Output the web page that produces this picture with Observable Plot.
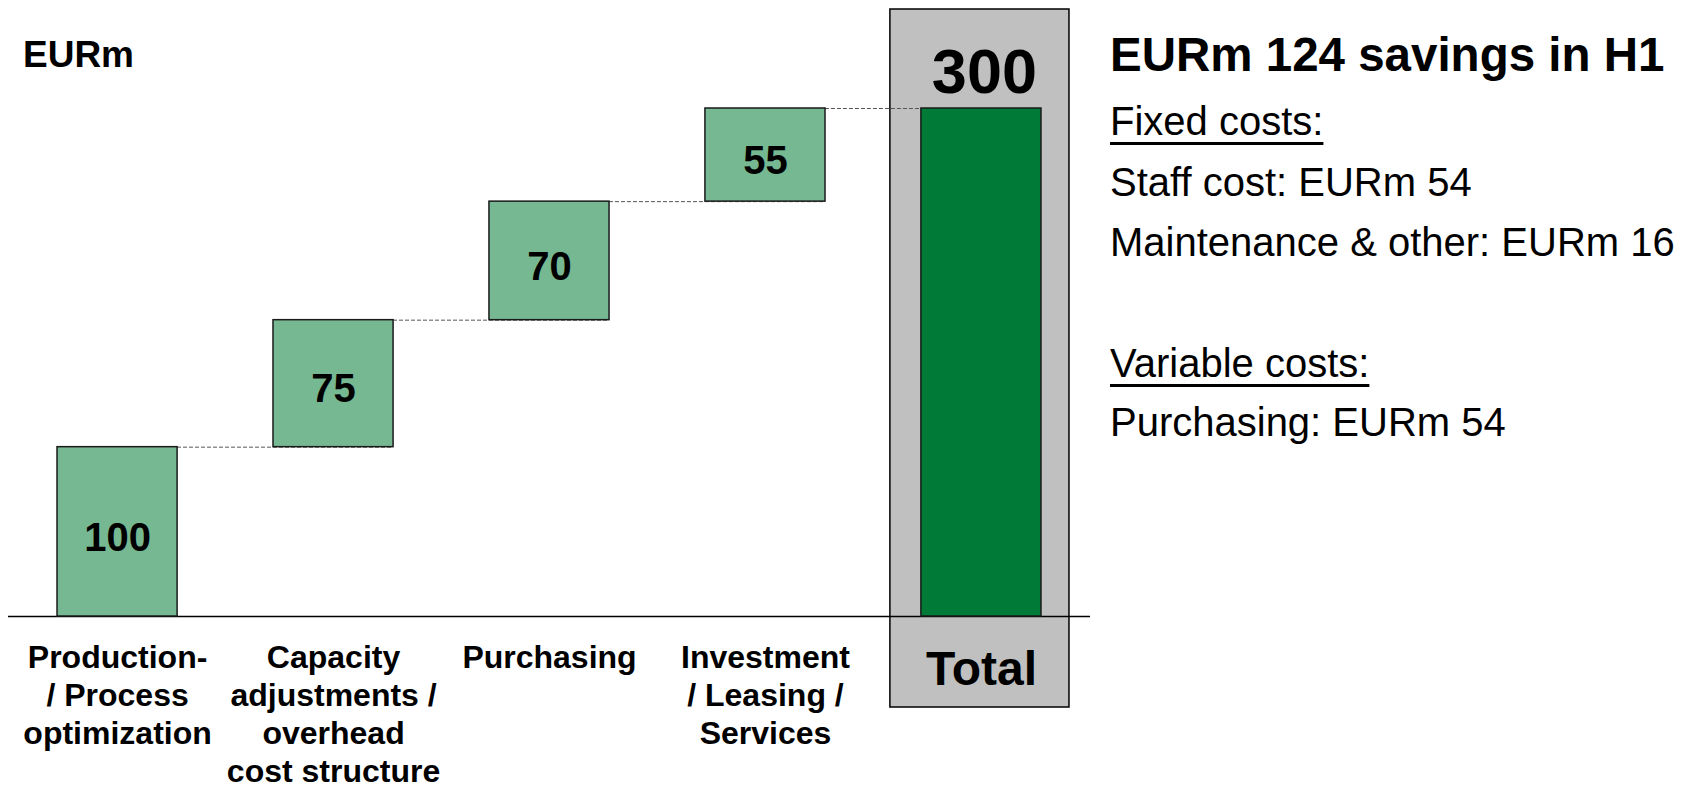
<!DOCTYPE html>
<html>
<head>
<meta charset="utf-8">
<script src="https://cdn.jsdelivr.net/npm/d3@7"></script>
<script src="https://cdn.jsdelivr.net/npm/@observablehq/plot@0.6"></script>
<style>
  html, body { margin: 0; padding: 0; background: #fff; }
  #wrap { position: relative; width: 1692px; height: 788px; font-family: "Liberation Sans", Arial, sans-serif; color: #000; }
  #chart { position: absolute; left: 0; top: 0; }
  .t { position: absolute; white-space: nowrap; line-height: 1; }
  .u { text-decoration: underline; text-decoration-thickness: 3px; text-underline-offset: 7px; }
</style>
</head>
<body>
<div id="wrap">
  <div id="chart"></div>
</div>
<script>
// ---- data ----
const categories = [
  "Production-\n/ Process\noptimization",
  "Capacity\nadjustments /\noverhead\ncost structure",
  "Purchasing",
  "Investment\n/ Leasing /\nServices"
];
const values = [100, 75, 70, 55];
const totalLabel = "Total";
const totalValue = 300;
const unitLabel = "EURm";
const panelTitle = "EURm 124 savings in H1";
const panelLines = [
  {text: "Fixed costs:", underline: true},
  {text: "Staff cost: EURm 54"},
  {text: "Maintenance & other: EURm 16"},
  {text: "Variable costs:", underline: true},
  {text: "Purchasing: EURm 54"}
];

// ---- derived waterfall table ----
let run = 0;
const steps = categories.map((c, i) => {
  const start = run;
  run += values[i];
  return {cat: c, start, end: run, value: values[i], mid: (start + run) / 2};
});
const connectors = steps.map((s, i) => ({
  from: s.cat,
  to: i < steps.length - 1 ? steps[i + 1].cat : totalLabel,
  y: s.end
}));
const totalRow = [{cat: totalLabel, start: 0, end: totalValue, value: totalValue}];
const domain = [...categories, totalLabel];

const chart = Plot.plot({
  width: 1692,
  height: 788,
  marginLeft: 8,
  marginRight: 602,
  marginTop: 108,
  marginBottom: 172,
  style: {fontFamily: "'Liberation Sans', Arial, sans-serif", background: "transparent", overflow: "visible"},
  x: {type: "band", domain, paddingInner: 0.444, paddingOuter: 0.227, align: 0.5, round: false, axis: null},
  y: {domain: [0, totalValue], axis: null},
  marks: [
    // grey highlight box behind the total
    Plot.barY(totalRow, {x: "cat", y1: "start", y2: "end", fill: "#c0c0c0", stroke: "#000", strokeWidth: 1.5,
      insetLeft: -31, insetRight: -28, insetTop: -99, insetBottom: -91}),
    // dashed connectors
    Plot.ruleY(connectors, {x1: "from", x2: "to", y: "y", stroke: "#555", strokeWidth: 1, strokeDasharray: "4,2"}),
    // baseline
    Plot.ruleY([0], {stroke: "#000", strokeWidth: 1.5}),
    // step bars
    Plot.barY(steps, {x: "cat", y1: "start", y2: "end", fill: "#76b892", stroke: "#1a1a1a", strokeWidth: 1.5}),
    // total bar
    Plot.barY(totalRow, {x: "cat", y1: "start", y2: "end", fill: "#007a37", stroke: "#1a1a1a", strokeWidth: 1.5}),
    // value labels
    Plot.text(steps, {x: "cat", y: "mid", text: d => String(d.value), fontSize: 40, fontWeight: "bold", fill: "#000", lineAnchor: "middle", dy: 6}),
    Plot.text(totalRow, {x: "cat", y: "end", text: d => String(d.value), fontSize: 63, fontWeight: "bold", fill: "#000", lineAnchor: "middle", dy: -36, dx: 3}),
    // category labels
    Plot.text(steps, {x: "cat", y: 0, text: "cat", fontSize: 32, fontWeight: "bold", fill: "#000", lineAnchor: "top", lineHeight: 1.18, dy: 25}),
    Plot.text(totalRow, {x: "cat", y: 0, text: "cat", fontSize: 48, fontWeight: "bold", fill: "#000", lineAnchor: "middle", dy: 53})
  ]
});
document.getElementById("chart").appendChild(chart);

// ---- text panel ----
const wrap = document.getElementById("wrap");
function addText(str, left, top, size, bold, underline) {
  const d = document.createElement("div");
  d.className = "t" + (underline ? " u" : "");
  d.textContent = str;
  d.style.left = left + "px";
  d.style.top = top + "px";
  d.style.fontSize = size + "px";
  d.style.fontWeight = bold ? "bold" : "normal";
  wrap.appendChild(d);
}
addText(unitLabel, 23, 36, 37, true, false);
addText(panelTitle, 1110, 31, 47.5, true, false);
const lineTops = [101, 162, 222, 343, 402];
panelLines.forEach((l, i) => addText(l.text, 1110, lineTops[i], 40, false, l.underline));
</script>
</body>
</html>
